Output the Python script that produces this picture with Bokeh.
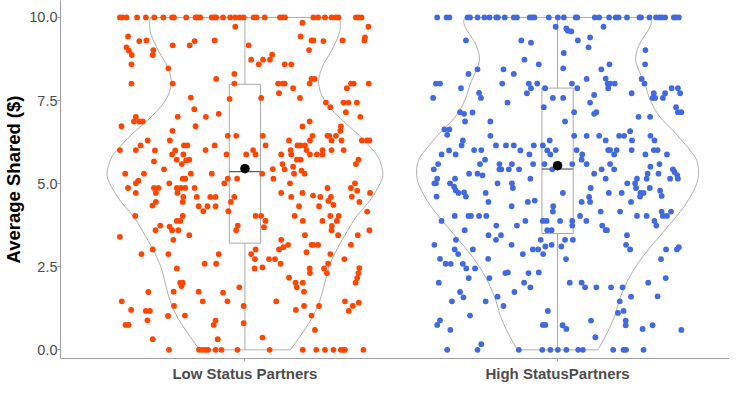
import numpy as np
from bokeh.plotting import figure
from bokeh.models import FixedTicker, Range1d, PrintfTickFormatter
from bokeh.embed import file_html
from bokeh.resources import INLINE

# ---------------- data ----------------
categories = ["Low Status Partners", "High StatusPartners"]
category_pos = [1, 2]
y_ticks = [0.0, 2.5, 5.0, 7.5, 10.0]
colors = ["#FF4500", "#4169E1"]

# jittered observations: (average shared $, horizontal jitter in category units)
low_top_dx = [-0.400, -0.392, -0.379, -0.345, -0.317, -0.290, -0.261, -0.233, -0.227, -0.188,
              -0.158, -0.152, -0.143, -0.106, -0.098, -0.092, -0.070, -0.047, -0.031, -0.017,
              -0.004, 0.028, 0.037, 0.063, 0.112, 0.120, 0.128, 0.219, 0.234, 0.256,
              0.277, 0.291, 0.299, 0.355, 0.363, 0.373]
low_zero_dx = [-0.243, -0.147, -0.137, -0.127, -0.118, -0.094, -0.075, -0.024, 0.079, 0.185,
               0.228, 0.256, 0.283, 0.307, 0.314, 0.320, 0.379]
low_points = [
    (9.72, -0.031), (9.43, -0.374), (9.29, -0.338), (9.31, -0.315), (9.31, -0.097), (9.16, -0.231),
    (9.16, -0.177), (9.29, -0.161), (9.10, -0.379), (9.00, -0.371), (9.02, -0.293), (8.87, -0.362),
    (8.87, -0.295), (8.59, -0.363), (8.47, -0.245), (8.30, -0.034), (8.15, -0.092), (8.01, -0.363),
    (8.01, -0.231), (8.01, -0.034), (7.59, -0.173), (7.55, -0.049), (7.24, -0.162), (7.10, -0.084),
    (7.01, -0.349), (7.01, -0.215), (7.01, -0.125), (6.87, -0.355), (6.87, -0.338), (6.87, -0.327),
    (6.73, -0.395), (6.73, -0.158), (6.59, -0.232), (6.44, -0.055), (6.44, -0.028), (6.30, -0.311),
    (6.30, -0.240), (6.15, -0.334), (6.15, -0.195), (6.15, -0.184), (6.15, -0.097), (6.01, -0.400),
    (6.01, -0.349), (6.00, -0.288), (6.00, -0.223), (6.01, -0.126), (5.88, -0.233), (5.88, -0.197),
    (5.88, -0.059), (5.72, -0.218), (5.70, -0.188), (5.72, -0.178), (5.67, -0.291), (5.59, -0.202),
    (5.43, -0.259), (5.30, -0.383), (5.30, -0.323), (5.30, -0.173), (5.30, -0.106),
    (9.84, 0.184), (9.72, 0.395), (9.43, 0.178), (9.16, 0.012), (9.31, 0.213), (9.31, 0.219),
    (9.29, 0.251), (9.31, 0.312), (9.40, 0.384), (9.31, 0.382), (9.02, 0.205), (8.73, 0.020),
    (8.59, 0.044), (8.73, 0.058), (8.73, 0.080), (8.88, 0.087), (8.59, 0.127), (8.59, 0.148),
    (8.15, 0.213), (8.15, 0.223), (8.01, 0.207), (8.01, 0.106), (8.01, 0.120), (8.01, 0.127),
    (7.87, 0.154), (7.72, 0.109), (8.01, 0.339), (8.01, 0.348), (8.01, 0.396), (7.87, 0.326),
    (7.58, 0.052), (7.58, 0.176), (7.44, 0.259), (7.44, 0.315), (7.44, 0.331), (7.44, 0.358),
    (7.30, 0.273), (7.15, 0.323), (7.01, 0.369), (6.87, 0.207), (6.72, 0.184), (6.72, 0.307),
    (6.59, 0.305), (6.44, 0.216), (6.44, 0.057), (6.44, 0.264), (6.44, 0.270), (6.44, 0.291),
    (6.30, 0.141), (6.15, 0.168), (6.15, 0.178), (6.15, 0.192), (6.15, 0.066), (6.30, 0.208),
    (6.30, 0.277), (6.30, 0.309), (6.30, 0.374), (6.30, 0.390), (6.30, 0.398), (6.01, 0.026),
    (6.01, 0.146), (6.01, 0.197), (6.01, 0.248), (6.01, 0.277), (6.01, 0.316), (5.88, 0.004),
    (5.88, 0.034), (5.88, 0.116), (5.88, 0.148), (5.88, 0.208), (5.88, 0.230), (5.88, 0.248),
    (5.72, 0.166), (5.72, 0.178), (5.72, 0.363), (5.59, 0.120), (5.59, 0.355), (5.44, 0.089),
    (5.43, 0.127), (5.51, 0.154), (5.39, 0.181), (5.30, 0.055), (5.30, 0.157), (5.30, 0.191),
    (5.15, -0.199), (5.15, -0.191), (5.15, -0.055), (5.15, -0.025), (5.09, -0.341), (5.01, -0.349),
    (5.01, -0.242), (5.01, -0.066), (4.87, -0.374), (4.87, -0.291), (4.87, -0.277), (4.87, -0.218),
    (4.87, -0.205), (4.87, -0.191), (4.87, -0.161), (4.72, -0.349), (4.72, -0.285), (4.72, -0.216),
    (4.60, -0.197), (4.60, -0.154), (4.60, -0.111), (4.60, -0.094), (4.60, -0.034), (4.45, -0.285),
    (4.45, -0.199), (4.45, -0.045), (4.34, -0.296), (4.32, -0.148), (4.32, -0.120), (4.32, -0.094),
    (4.17, -0.133), (4.17, -0.053), (4.03, -0.351), (4.03, -0.199), (3.88, -0.218), (3.88, -0.207),
    (3.74, -0.271), (3.71, -0.241), (3.74, -0.023), (3.60, -0.286), (3.60, -0.233), (3.60, -0.213),
    (3.60, -0.028), (3.45, -0.178), (3.40, -0.400), (3.31, -0.229), (3.02, -0.295), (2.88, -0.331),
    (2.88, -0.245), (2.88, -0.084), (2.59, -0.129), (2.59, -0.092), (2.45, -0.218), (2.02, -0.207),
    (2.02, -0.199), (1.92, -0.203), (1.74, -0.309), (1.75, -0.228), (1.75, -0.148), (1.72, -0.070),
    (1.88, -0.018), (1.46, -0.135), (1.46, -0.056), (1.46, -0.394), (1.20, -0.364), (1.17, -0.317),
    (1.17, -0.304), (1.32, -0.227), (1.32, -0.004), (0.89, -0.312), (1.02, -0.246), (1.03, -0.192),
    (0.88, -0.094), (0.80, -0.004), (0.75, -0.382), (0.75, -0.372), (0.75, -0.100), (0.32, -0.295),
    (0.32, -0.087),
    (5.15, 0.091), (5.01, 0.144), (5.01, 0.352), (4.87, 0.264), (4.87, 0.339), (4.79, 0.359),
    (4.61, 0.342), (4.72, 0.400), (4.45, 0.366), (4.72, 0.116), (4.72, 0.184), (4.60, 0.148),
    (4.64, 0.218), (4.60, 0.241), (4.60, 0.275), (4.48, 0.267), (4.36, 0.283), (4.32, 0.237),
    (4.32, 0.173), (4.03, 0.159), (3.88, 0.185), (3.88, 0.248), (4.03, 0.273), (4.03, 0.300),
    (3.88, 0.294), (3.73, 0.278), (3.60, 0.277), (3.45, 0.298), (4.16, 0.391), (3.60, 0.398),
    (3.45, 0.361), (4.03, 0.034), (4.03, 0.052), (3.88, 0.066), (3.69, 0.061), (3.45, 0.192),
    (3.31, 0.116), (3.09, 0.123), (3.02, 0.109), (3.16, 0.138), (3.02, 0.034), (2.88, 0.020),
    (2.73, 0.032), (3.16, 0.213), (3.16, 0.219), (3.16, 0.234), (2.94, 0.197), (2.88, 0.273),
    (3.16, 0.339), (2.73, 0.077), (2.73, 0.096), (2.59, 0.114), (2.45, 0.031), (2.48, 0.056),
    (2.73, 0.318), (2.59, 0.266), (2.45, 0.207), (2.45, 0.253), (2.31, 0.208), (2.31, 0.262),
    (2.46, 0.366), (2.31, 0.363), (2.16, 0.359), (2.02, 0.354), (2.17, 0.141), (2.02, 0.162),
    (1.88, 0.166), (2.02, 0.185), (1.75, 0.189), (1.46, 0.100), (1.20, 0.163), (1.32, 0.189),
    (1.32, 0.237), (1.46, 0.320), (1.17, 0.332), (1.32, 0.345), (1.42, 0.364), (1.03, 0.213),
    (0.60, 0.224), (0.37, 0.056),
]

high_top_dx = [-0.385, -0.355, -0.346, -0.288, -0.280, -0.256, -0.234, -0.218, -0.196, -0.191,
               -0.169, -0.140, -0.130, -0.089, -0.081, -0.074, -0.028, 0.001, 0.020, 0.058,
               0.063, 0.119, 0.133, 0.165, 0.186, 0.195, 0.222, 0.262, 0.267, 0.294,
               0.315, 0.326, 0.334, 0.344, 0.372, 0.379, 0.388]
high_zero_dx = [-0.353, -0.256, -0.124, -0.049, -0.023, 0.001, 0.028, 0.066, 0.081, 0.178,
                0.211, 0.219, 0.275]
high_points = [
    (9.72, -0.006), (9.31, -0.293), (9.31, -0.116), (9.24, -0.085), (8.73, -0.106), (8.59, -0.060),
    (8.44, -0.256), (8.44, -0.173), (8.30, -0.140), (8.30, -0.285), (8.01, -0.389), (8.01, -0.376),
    (7.87, -0.309), (8.01, -0.177), (8.01, -0.092), (8.01, -0.065), (7.87, -0.085), (7.72, -0.098),
    (7.87, -0.040), (7.73, -0.251), (7.58, -0.245), (7.58, -0.398), (7.44, -0.160), (7.58, -0.015),
    (7.30, -0.044), (7.15, -0.312), (7.10, -0.299), (7.14, -0.272), (6.87, -0.296), (6.87, -0.215),
    (6.63, -0.362), (6.63, -0.346), (6.47, -0.353), (6.44, -0.215), (6.30, -0.303), (6.15, -0.307),
    (6.15, -0.197), (6.15, -0.165), (6.15, -0.140), (6.15, -0.076), (6.15, -0.047), (6.30, -0.025),
    (6.00, -0.347), (6.01, -0.267), (6.01, -0.244), (6.00, -0.119), (6.00, -0.033), (6.01, -0.006),
    (5.88, -0.371), (5.88, -0.326), (5.88, -0.090), (5.88, -0.023), (5.72, -0.232), (5.59, -0.382),
    (5.59, -0.248), (5.59, -0.186), (5.59, -0.146), (5.59, -0.078), (5.59, -0.042), (5.43, -0.396),
    (5.43, -0.186), (5.43, -0.180), (5.43, -0.156), (5.43, -0.123), (5.43, -0.017), (5.30, -0.283),
    (5.30, -0.256), (5.25, -0.240),
    (9.67, 0.028), (9.60, 0.033), (9.58, 0.044), (9.72, 0.147), (9.31, 0.065), (9.40, 0.104),
    (9.10, 0.099), (8.93, 0.020), (8.47, 0.018), (8.59, 0.166), (8.44, 0.140), (9.02, 0.281),
    (8.59, 0.280), (8.15, 0.093), (8.16, 0.154), (8.01, 0.160), (8.01, 0.168), (8.01, 0.183),
    (7.87, 0.162), (8.01, 0.046), (7.87, 0.063), (8.15, 0.269), (8.01, 0.278), (7.72, 0.237),
    (7.67, 0.117), (7.44, 0.104), (7.10, 0.117), (7.15, 0.124), (7.72, 0.308), (7.58, 0.304),
    (7.58, 0.312), (7.58, 0.337), (7.72, 0.344), (7.87, 0.365), (7.87, 0.385), (7.72, 0.392),
    (7.30, 0.379), (7.15, 0.385), (7.15, 0.396), (7.01, 0.259), (7.01, 0.296), (7.58, 0.018),
    (7.15, 0.053), (6.87, 0.024), (6.58, 0.232), (6.44, 0.053), (6.44, 0.093), (6.44, 0.133),
    (6.44, 0.197), (6.44, 0.213), (6.44, 0.297), (6.30, 0.154), (6.30, 0.238), (6.30, 0.310),
    (6.01, 0.061), (6.01, 0.162), (6.01, 0.168), (6.01, 0.189), (6.01, 0.237), (6.01, 0.308),
    (6.01, 0.320), (5.88, 0.079), (5.88, 0.181), (5.88, 0.281), (5.88, 0.350), (5.72, 0.077),
    (5.59, 0.326), (5.59, 0.093), (5.59, 0.168), (5.59, 0.047), (5.43, 0.181), (5.43, 0.141),
    (5.51, 0.297), (5.43, 0.369), (5.35, 0.374), (5.30, 0.117), (5.30, 0.288), (5.30, 0.323),
    (5.25, 0.383),
    (5.15, -0.385), (5.15, -0.328), (5.15, -0.087), (5.01, -0.394), (5.01, -0.389), (5.01, -0.344),
    (4.91, -0.331), (4.80, -0.326), (4.72, -0.317), (4.74, -0.299), (5.01, -0.192), (5.01, -0.146),
    (4.87, -0.143), (4.61, -0.387), (4.61, -0.293), (4.72, -0.230), (4.45, -0.221), (4.45, -0.095),
    (4.49, -0.073), (4.32, -0.014), (4.16, -0.015), (4.32, -0.147), (3.88, -0.371), (4.03, -0.329),
    (4.03, -0.285), (4.03, -0.277), (4.03, -0.251), (4.03, -0.228), (3.74, -0.196), (3.74, -0.130),
    (3.88, -0.103), (3.88, -0.047), (3.88, -0.035), (3.60, -0.033), (3.60, -0.297), (3.45, -0.221),
    (3.45, -0.181), (3.31, -0.197), (3.31, -0.054), (3.16, -0.394), (3.31, -0.325), (3.16, -0.147),
    (3.11, -0.039), (3.02, -0.329), (2.88, -0.318), (3.02, -0.271), (3.02, -0.079), (3.02, -0.062),
    (2.88, -0.046), (2.74, -0.376), (2.59, -0.358), (2.59, -0.342), (2.59, -0.303), (2.45, -0.292),
    (2.45, -0.264), (2.74, -0.222), (2.88, -0.111), (2.16, -0.284), (2.16, -0.218), (2.31, -0.167),
    (2.33, -0.159), (2.31, -0.093), (2.33, -0.060), (2.02, -0.380), (2.02, -0.107), (1.88, -0.087),
    (1.74, -0.312), (1.74, -0.138), (1.58, -0.301), (1.60, -0.192), (1.46, -0.338), (1.46, -0.230),
    (1.32, -0.173), (1.17, -0.031), (1.03, -0.280), (0.89, -0.376), (0.75, -0.385), (0.75, -0.047),
    (0.75, -0.039), (0.60, -0.343), (0.17, -0.244),
    (5.15, 0.154), (5.15, 0.254), (5.15, 0.285), (5.15, 0.360), (5.15, 0.385), (5.01, 0.223),
    (5.01, 0.248), (4.87, 0.106), (4.87, 0.251), (4.87, 0.295), (4.72, 0.017), (4.72, 0.164),
    (4.72, 0.205), (4.72, 0.265), (4.72, 0.275), (4.61, 0.264), (4.79, 0.328), (4.63, 0.333),
    (4.60, 0.101), (4.45, 0.104), (4.45, 0.077), (4.45, 0.235), (4.16, 0.138), (4.16, 0.200),
    (4.16, 0.333), (4.16, 0.363), (4.03, 0.072), (4.03, 0.254), (4.03, 0.285), (4.03, 0.337),
    (4.03, 0.350), (3.88, 0.310), (3.74, 0.316), (3.88, 0.008), (3.88, 0.047), (3.74, 0.047),
    (3.88, 0.092), (3.74, 0.143), (3.60, 0.154), (3.60, 0.158), (3.60, -0.019), (3.45, 0.222),
    (3.31, 0.024), (3.31, 0.049), (3.16, -0.019), (3.11, 0.012), (3.16, 0.219), (3.02, 0.232),
    (3.02, 0.347), (3.02, 0.382), (3.09, 0.388), (2.73, 0.331), (2.73, 0.027), (2.16, 0.346),
    (2.02, 0.290), (2.02, 0.039), (2.02, 0.077), (1.88, 0.088), (1.88, 0.124), (1.88, 0.171),
    (1.88, 0.208), (1.60, 0.235), (1.61, 0.320), (1.46, 0.199), (1.17, 0.211), (1.11, 0.193),
    (0.88, 0.107), (0.88, 0.218), (0.74, 0.218), (0.74, 0.016), (0.63, 0.028), (0.63, 0.272),
    (0.74, 0.304), (0.60, 0.396), (0.38, 0.121),
]

# box-plot summaries
low_box = {"min": 0.0, "q1": 3.21, "median": 5.36, "q3": 7.99, "max": 10.0, "mean": 5.45}
high_box = {"min": 0.0, "q1": 3.50, "median": 5.44, "q3": 7.875, "max": 10.0, "mean": 5.54}

# violin outlines (half-width in category units at each level)
low_violin_levels = [0, 0.5, 1, 1.5, 2, 2.5, 3, 3.5, 4, 4.5, 5, 5.3, 5.7, 6, 6.5, 7, 7.5, 8,
                     8.5, 9, 9.5, 9.8, 10]
low_violin_hw = [0.145, 0.183, 0.217, 0.240, 0.255, 0.269, 0.293, 0.323, 0.356, 0.400, 0.432,
                 0.441, 0.431, 0.410, 0.360, 0.301, 0.255, 0.236, 0.247, 0.277, 0.301, 0.305, 0.302]
high_violin_levels = [0, 0.5, 1, 1.5, 2, 2.5, 3, 3.5, 4, 4.5, 5, 5.35, 5.7, 6, 6.5, 7, 7.5, 8,
                      8.5, 8.8, 9.2, 9.6, 9.85, 10]
high_violin_hw = [0.129, 0.158, 0.182, 0.198, 0.220, 0.250, 0.289, 0.334, 0.379, 0.418, 0.445,
                  0.451, 0.445, 0.424, 0.379, 0.328, 0.297, 0.279, 0.256, 0.250, 0.262, 0.289,
                  0.300, 0.296]


def smooth(levels, widths, n=10):
    pts = list(zip(levels, widths))
    ys, ws = [], []
    for i in range(len(pts) - 1):
        p0 = pts[max(i - 1, 0)]
        p1 = pts[i]
        p2 = pts[i + 1]
        p3 = pts[min(i + 2, len(pts) - 1)]
        for t in np.linspace(0, 1, n, endpoint=False):
            t2, t3 = t * t, t * t * t
            vals = []
            for k in range(2):
                vals.append(0.5 * ((2 * p1[k]) + (-p0[k] + p2[k]) * t
                                   + (2 * p0[k] - 5 * p1[k] + 4 * p2[k] - p3[k]) * t2
                                   + (-p0[k] + 3 * p1[k] - 3 * p2[k] + p3[k]) * t3))
            ys.append(vals[0])
            ws.append(vals[1])
    ys.append(pts[-1][0])
    ws.append(pts[-1][1])
    return np.array(ys), np.array(ws)


p = figure(width=729, height=384, output_backend="svg", toolbar_location=None,
           x_range=Range1d(0.410, 2.550), y_range=Range1d(-0.26, 10.51),
           min_border_left=0, min_border_right=0, min_border_top=0, min_border_bottom=0)
p.background_fill_color = "white"
p.border_fill_color = "white"
p.outline_line_color = None
p.xgrid.visible = False
p.ygrid.visible = False

groups = [
    (category_pos[0], low_points, low_top_dx, low_zero_dx, low_box, low_violin_levels, low_violin_hw, colors[0]),
    (category_pos[1], high_points, high_top_dx, high_zero_dx, high_box, high_violin_levels, high_violin_hw, colors[1]),
]

# violins
for c, pts, tdx, zdx, box, lv, hw, col in groups:
    ys, ws = smooth(lv, hw)
    xs = np.concatenate([c + ws, (c - ws)[::-1]])
    yy = np.concatenate([ys, ys[::-1]])
    p.patch(xs, yy, fill_alpha=0, line_color="#8a8a8a", line_width=0.7)

# box plots
bw = 0.05
for c, pts, tdx, zdx, box, lv, hw, col in groups:
    p.quad(left=[c - bw], right=[c + bw], bottom=[box["q1"]], top=[box["q3"]],
           fill_alpha=0, line_color="#a8a8a8", line_width=1)
    p.segment(x0=[c, c], y0=[box["q3"], box["q1"]], x1=[c, c], y1=[box["max"], box["min"]],
              line_color="#a8a8a8", line_width=1)
    p.segment(x0=[c - bw], y0=[box["median"]], x1=[c + bw], y1=[box["median"]],
              line_color="#3a3a3a", line_width=1)

# jittered points
for c, pts, tdx, zdx, box, lv, hw, col in groups:
    xs = [c + d for d in tdx] + [c + d for d in zdx] + [c + d for (_, d) in pts]
    ys = [10.0] * len(tdx) + [0.0] * len(zdx) + [v for (v, _) in pts]
    p.scatter(xs, ys, size=5.8, fill_color=col, line_color=None)

# means
p.scatter([g[0] for g in groups], [g[4]["mean"] for g in groups], size=9.5,
          fill_color="black", line_color=None)

# axes
p.xaxis.ticker = FixedTicker(ticks=category_pos)
p.xaxis.major_label_overrides = {category_pos[i]: categories[i] for i in range(2)}
p.xaxis.major_label_text_font = "Liberation Sans"
p.xaxis.major_label_text_font_style = "bold"
p.xaxis.major_label_text_font_size = "15px"
p.xaxis.major_label_text_color = "#4d4d4d"
p.xaxis.major_label_standoff = 3

p.yaxis.ticker = FixedTicker(ticks=y_ticks)
p.yaxis.formatter = PrintfTickFormatter(format="%.1f")
p.yaxis.major_label_text_font = "Liberation Sans"
p.yaxis.major_label_text_font_size = "14.5px"
p.yaxis.major_label_text_color = "#4d4d4d"
p.yaxis.major_label_standoff = 0
p.yaxis.axis_label = "Average Shared ($)"
p.yaxis.axis_label_text_font = "Liberation Sans"
p.yaxis.axis_label_text_font_style = "bold"
p.yaxis.axis_label_text_font_size = "18.5px"
p.yaxis.axis_label_text_color = "black"
p.yaxis.axis_label_standoff = 2

for ax in (p.xaxis, p.yaxis):
    ax.axis_line_color = "#a0a0a0"
    ax.axis_line_width = 1
    ax.major_tick_line_color = "#a0a0a0"
    ax.major_tick_in = 0
    ax.major_tick_out = 3
    ax.minor_tick_line_color = None

open("out.html", "w").write(file_html(p, INLINE))
